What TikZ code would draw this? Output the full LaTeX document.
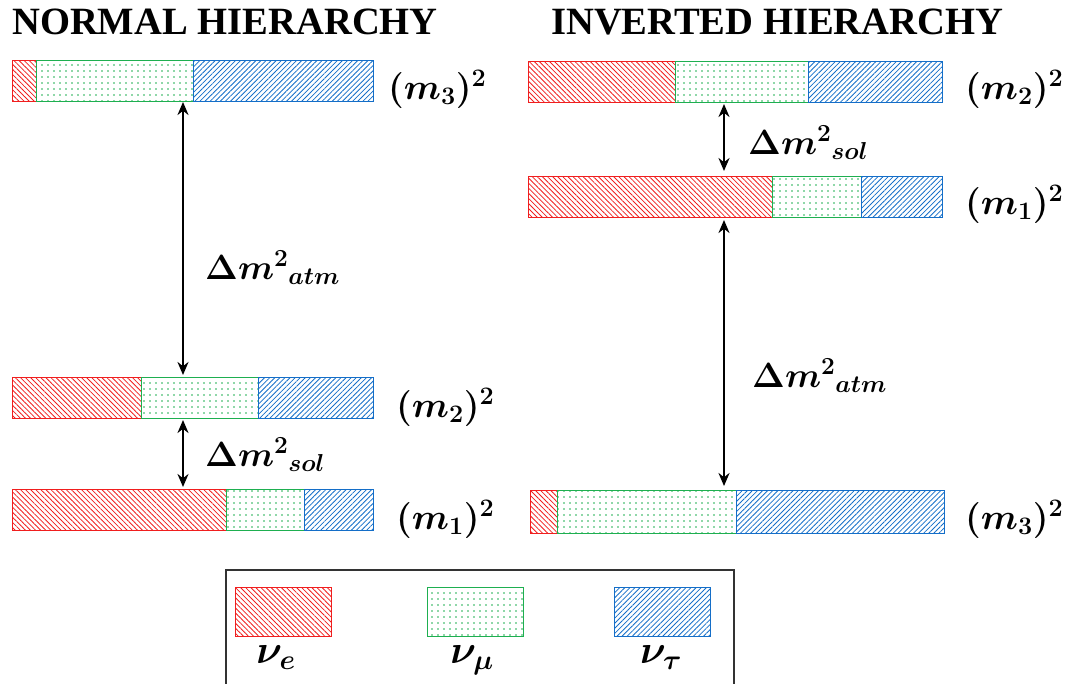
\RequirePackage{fix-cm}
\documentclass[tikz,border=0pt]{standalone}
\usepackage[no-math]{fontspec}
\setmainfont{Liberation Serif}[BoldFont={Liberation Serif Bold}]
\newfontfamily\headfont{Liberation Serif Bold}
\usepackage{bm}
\usetikzlibrary{patterns.meta,arrows.meta}

\definecolor{nue}{RGB}{240,30,30}
\definecolor{numu}{RGB}{30,175,80}
\definecolor{nutau}{RGB}{20,110,200}

\tikzset{
  segbase/.style={rectangle, inner sep=0pt, outer sep=0pt, line width=1pt},
  elec/.style={segbase, draw=nue, pattern={Lines[angle=-45,distance=3.6pt,line width=0.8pt]}, pattern color=nue},
  muon/.style={segbase, draw=numu, pattern={Dots[distance=6pt,radius=0.95pt]}, pattern color=numu},
  tauon/.style={segbase, draw=nutau, pattern={Lines[angle=45,distance=3.6pt,line width=0.8pt]}, pattern color=nutau},
  title/.style={font=\headfont\fontsize{38.6}{40}\selectfont, anchor=west, inner sep=0pt},
  mass/.style={font=\fontsize{36}{40}\selectfont, anchor=west, inner sep=0pt},
  gap/.style={font=\fontsize{35}{40}\selectfont, anchor=west, inner sep=0pt},
  flavour/.style={font=\fontsize{40}{44}\selectfont, anchor=center, inner sep=0pt},
  split/.style={{Stealth[length=13pt,width=11pt]}-{Stealth[length=13pt,width=11pt]}, line width=2.2pt},
  legendframe/.style={draw=black!80, line width=1.2pt}
}

% one coloured segment of a mass bar: name, x1, x2, y1, y2, style
\newcommand\barseg[6]{%
  \node[#6, minimum width={(#3-#2)*1pt}, minimum height={(#5-#4)*1pt}]
    (#1) at ({(#2+#3)/2},{(#4+#5)/2}) {};}

\begin{document}
\begin{tikzpicture}[x=1pt,y=-1pt]
\useasboundingbox (0,0) rectangle (1073,683);

% titles
\node[title] (nhtitle) at (12,22) {NORMAL HIERARCHY};
\node[title] (ihtitle) at (551,22) {INVERTED HIERARCHY};

% normal hierarchy bars
\barseg{nh3e}{12}{36}{60}{101}{elec}
\barseg{nh3m}{36}{193}{60}{101}{muon}
\barseg{nh3t}{193}{373}{60}{101}{tauon}

\barseg{nh2e}{12}{141}{377}{418}{elec}
\barseg{nh2m}{141}{258}{377}{418}{muon}
\barseg{nh2t}{258}{373}{377}{418}{tauon}

\barseg{nh1e}{12}{226}{489}{530}{elec}
\barseg{nh1m}{226}{304}{489}{530}{muon}
\barseg{nh1t}{304}{373}{489}{530}{tauon}

% inverted hierarchy bars
\barseg{ih2e}{528}{675}{61}{102}{elec}
\barseg{ih2m}{675}{808}{61}{102}{muon}
\barseg{ih2t}{808}{942}{61}{102}{tauon}

\barseg{ih1e}{528}{772}{176}{217}{elec}
\barseg{ih1m}{772}{861}{176}{217}{muon}
\barseg{ih1t}{861}{942}{176}{217}{tauon}

\barseg{ih3e}{530}{557}{490}{533}{elec}
\barseg{ih3m}{557}{736}{490}{533}{muon}
\barseg{ih3t}{736}{944}{490}{533}{tauon}

% mass labels
\node[mass] (lnh3) at (388,89) {$\bm{(m_3)^2}$};
\node[mass] (lnh2) at (396,407) {$\bm{(m_2)^2}$};
\node[mass] (lnh1) at (396,519) {$\bm{(m_1)^2}$};
\node[mass] (lih2) at (965,89) {$\bm{(m_2)^2}$};
\node[mass] (lih1) at (965,204) {$\bm{(m_1)^2}$};
\node[mass] (lih3) at (965,519) {$\bm{(m_3)^2}$};

% splitting arrows
\coordinate (nhaxis) at (183,0);
\coordinate (ihaxis) at (724,0);
\draw[split] ([yshift=-1pt]nh3m.south -| nhaxis) -- ([yshift=2pt]nh2m.north -| nhaxis);
\draw[split] ([yshift=-2pt]nh2m.south -| nhaxis) -- ([yshift=2pt]nh1e.north -| nhaxis);
\draw[split] ([yshift=-2pt]ih2m.south -| ihaxis) -- ([yshift=5pt]ih1e.north -| ihaxis);
\draw[split] ([yshift=-3pt]ih1e.south -| ihaxis) -- ([yshift=4pt]ih3m.north -| ihaxis);

\node[gap] (gnhatm) at (205,268) {$\bm{\Delta m^{2}{}_{atm}}$};
\node[gap] (gnhsol) at (205,455) {$\bm{\Delta m^{2}{}_{sol}}$};
\node[gap] (gihsol) at (748,143) {$\bm{\Delta m^{2}{}_{sol}}$};
\node[gap] (gihatm) at (752,376) {$\bm{\Delta m^{2}{}_{atm}}$};

% legend
\draw[legendframe] (226,700) -- (226,570) -- (734,570) -- (734,700);
\barseg{lege}{235}{331}{587}{636}{elec}
\barseg{legm}{427}{523}{587}{636}{muon}
\barseg{legt}{614}{710}{587}{636}{tauon}
\node[flavour] (llege) at (276,658) {$\bm{\nu_e}$};
\node[flavour] (llegm) at (472,660) {$\bm{\nu_\mu}$};
\node[flavour] (llegt) at (661,658) {$\bm{\nu_\tau}$};
\end{tikzpicture}
\end{document}
